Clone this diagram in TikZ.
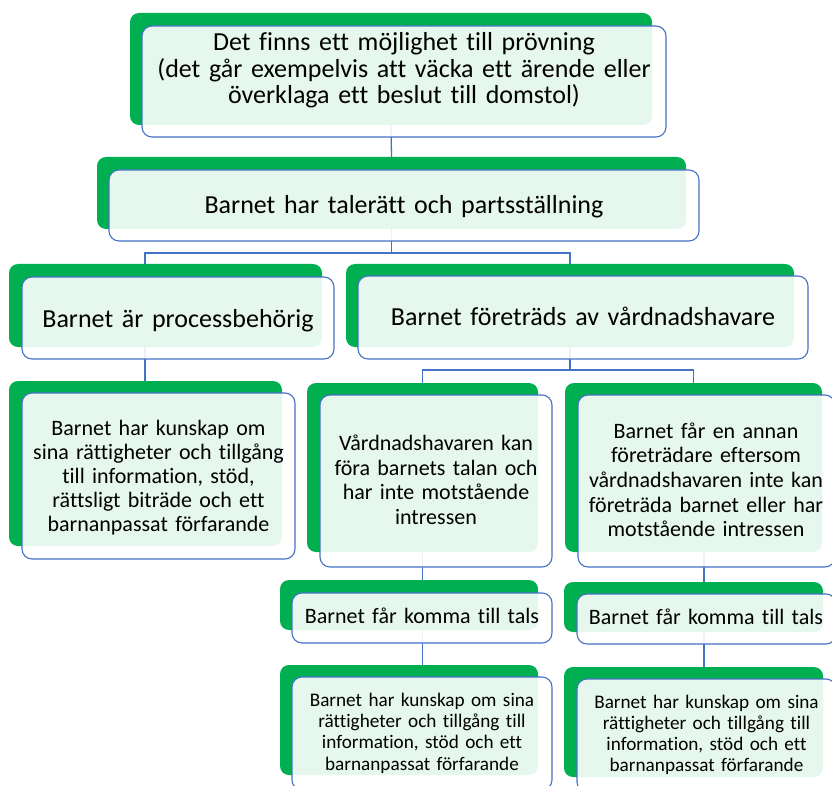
\documentclass[tikz,border=0pt]{standalone}
\usepackage{fontspec}
\setmainfont{Carlito}[Ligatures={NoCommon,NoRequired,NoContextual}]
\usetikzlibrary{fit,calc,backgrounds}
\definecolor{gr}{HTML}{00B050}
\definecolor{bl}{HTML}{4472C4}
\tikzset{
  greenbox/.style={fill=gr, draw=none, rounded corners=9pt, inner sep=0pt, outer sep=0pt},
  frontbox/.style={fill=white, fill opacity=0.9, draw=bl, line width=1.1pt, rounded corners=10pt, inner sep=0pt, outer sep=0pt},
  conn/.style={draw=bl, line width=1.3pt},
  txt/.style={text=black, align=center, inner sep=0pt, anchor=base, text width=#1},
  txt/.default=300pt
}
\newcommand{\fsz}[2]{\fontsize{#1}{#2}\selectfont}
\begin{document}
\begin{tikzpicture}[x=1pt,y=-1pt]
\useasboundingbox (0,0) rectangle (832,786);
% green back shapes
\node[greenbox, fit={(130,13) (652,125)}] (g1) {};
\node[greenbox, fit={(97,157) (686,229)}] (g2) {};
\node[greenbox, fit={(9,264) (322,347)}] (g3) {};
\node[greenbox, fit={(346,264) (794,347)}] (g4) {};
\node[greenbox, fit={(9,381) (282,546)}] (g5) {};
\node[greenbox, fit={(307,383) (538,552)}] (g6) {};
\node[greenbox, fit={(565,383) (822,552)}] (g7) {};
\node[greenbox, fit={(280,580) (538,630)}] (g8) {};
\node[greenbox, fit={(280,665) (538,775)}] (g9) {};
\node[greenbox, fit={(564,582) (823,632)}] (g10) {};
\node[greenbox, fit={(564,667) (823,777)}] (g11) {};
% connector helper coordinates
\coordinate (j2) at (0,253);
\coordinate (b3) at (145,264);
\coordinate (b4) at (570,264);
\coordinate (j4) at (0,370);
\coordinate (c6) at (422.4,383);
\coordinate (c7) at (693.4,383);
\coordinate (d7) at (704,552);
% connectors (behind the shapes)
\begin{scope}[on background layer]
\draw[conn] (g1.south) -- (g2.north);
\draw[conn] (g2.south) -- (g2.south |- j2) -| (b3);
\draw[conn] (g2.south |- j2) -| (b4);
\draw[conn] (b3) -- (b3 |- g5.north);
\draw[conn] (b4) -- (b4 |- j4) -| (c6);
\draw[conn] (b4 |- j4) -| (c7);
\draw[conn] (c6) -- (c6 |- g9.north);
\draw[conn] (d7) -- (d7 |- g11.north);
\end{scope}
% front boxes
\node[frontbox, fit={(142,26) (666,137)}] (f1) {};
\node[frontbox, fit={(109,170) (699,241)}] (f2) {};
\node[frontbox, fit={(22,277) (334,359)}] (f3) {};
\node[frontbox, fit={(358,276) (808,359)}] (f4) {};
\node[frontbox, fit={(22,393) (295,559)}] (f5) {};
\node[frontbox, fit={(320,395) (552,567)}] (f6) {};
\node[frontbox, fit={(578,395) (835,567)}] (f7) {};
\node[frontbox, fit={(292,593) (552,643)}] (f8) {};
\node[frontbox, fit={(292,677) (552,790)}] (f9) {};
\node[frontbox, fit={(577,594) (836,644)}] (f10) {};
\node[frontbox, fit={(577,679) (836,792)}] (f11) {};
% texts
\node[txt=600pt, font=\fsz{26}{26.7}] (t1) at (404,50.5) {Det finns ett möjlighet till prövning\\(det går exempelvis att väcka ett ärende eller\\överklaga ett beslut till domstol)};
\node[txt=600pt, font=\fsz{26}{27}] (t2) at (404,213.3) {Barnet har talerätt och partsställning};
\node[txt=320pt, font=\fsz{26}{27}] (t3) at (178,327) {Barnet är processbehörig};
\node[txt=460pt, font=\fsz{26}{27}] (t4) at (583,325) {Barnet företräds av vårdnadshavare};
\node[txt=280pt, font=\fsz{22}{24}] (t5) at (158.5,435) {Barnet har kunskap om\\sina rättigheter och tillgång\\till information, stöd,\\rättsligt biträde och ett\\barnanpassat förfarande};
\node[txt=240pt, font=\fsz{22}{24.8}] (t6) at (436,450.2) {Vårdnadshavaren kan\\föra barnets talan och\\har inte motstående\\intressen};
\node[txt=260pt, font=\fsz{22}{24.7}] (t7) at (706,438) {Barnet får en annan\\företrädare eftersom\\vårdnadshavaren inte kan\\företräda barnet eller har\\motstående intressen};
\node[txt=260pt, font=\fsz{22}{24}] (t8) at (422,623.3) {Barnet får komma till tals};
\node[txt=260pt, font=\fsz{22}{24}] (t10) at (706,624.3) {Barnet får komma till tals};
\node[txt=260pt, font=\fsz{19.2}{21.1}] (t9) at (422,706.7) {Barnet har kunskap om sina\\rättigheter och tillgång till\\information, stöd och ett\\barnanpassat förfarande};
\node[txt=260pt, font=\fsz{19.2}{21.1}] (t11) at (706.5,708.3) {Barnet har kunskap om sina\\rättigheter och tillgång till\\information, stöd och ett\\barnanpassat förfarande};
\end{tikzpicture}
\end{document}
